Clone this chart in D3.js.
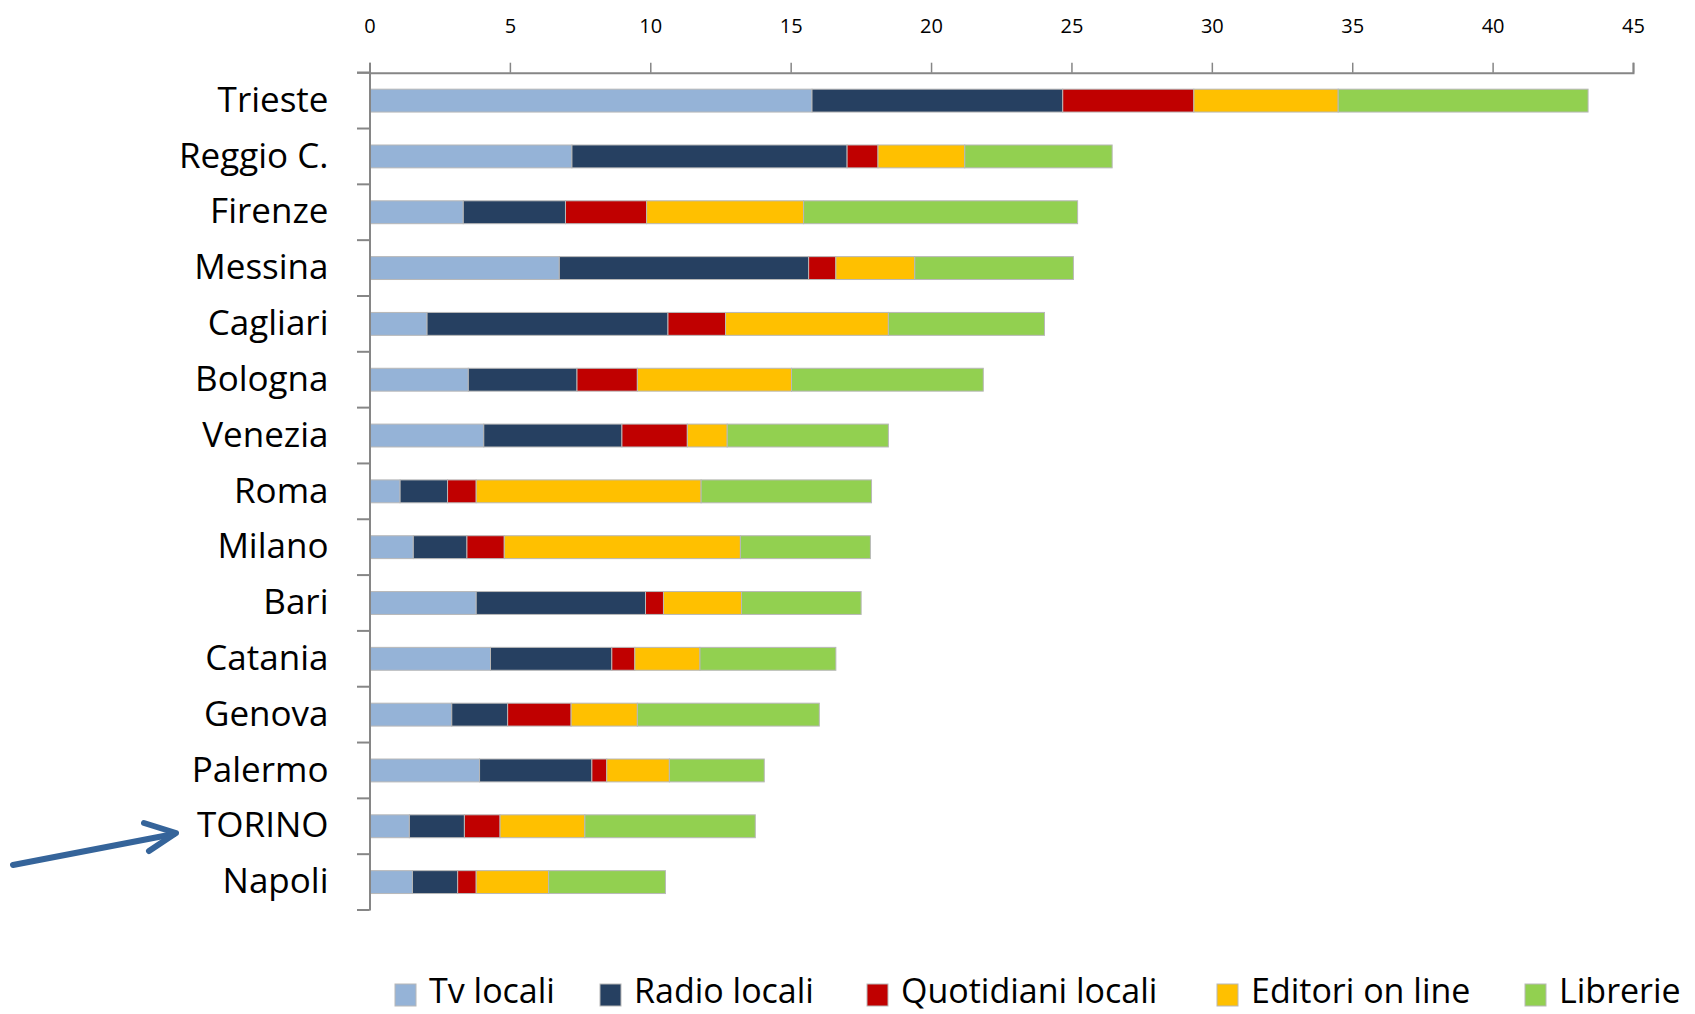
<!DOCTYPE html>
<html><head><meta charset="utf-8">
<script src="https://cdn.jsdelivr.net/npm/d3@7"></script>
<style>
html,body{margin:0;padding:0;background:#fff;}
svg{display:block;font-family:"Open Sans", sans-serif;}
</style></head>
<body>
<svg id="chart" width="1695" height="1014"></svg>
<script>
const cities = ["Trieste","Reggio C.","Firenze","Messina","Cagliari","Bologna","Venezia","Roma","Milano","Bari","Catania","Genova","Palermo","TORINO","Napoli"];
const seriesNames = ["Tv locali","Radio locali","Quotidiani locali","Editori on line","Librerie"];
const tvLocali       = [15.76, 7.21, 3.34, 6.76, 2.05, 3.52, 4.07, 1.09, 1.56, 3.80, 4.31, 2.93, 3.92, 1.42, 1.53];
const radioLocali    = [ 8.93, 9.80, 3.64, 8.88, 8.58, 3.87, 4.92, 1.69, 1.91, 6.03, 4.32, 1.99, 4.00, 1.96, 1.61];
const quotidiani     = [ 4.67, 1.10, 2.89, 0.97, 2.05, 2.15, 2.33, 1.02, 1.33, 0.64, 0.82, 2.26, 0.53, 1.27, 0.66];
const editoriOnLine  = [ 5.14, 3.09, 5.59, 2.81, 5.80, 5.49, 1.42, 8.01, 8.41, 2.78, 2.32, 2.36, 2.23, 3.02, 2.58];
const librerie       = [ 8.90, 5.25, 9.76, 5.65, 5.56, 6.83, 5.74, 6.07, 4.63, 4.26, 4.84, 6.48, 3.38, 6.07, 4.16];
const xTicks = [0,5,10,15,20,25,30,35,40,45];
const colors = ["#95B3D7","#264061","#C00000","#FFC000","#92D050"];

const allSeries = [tvLocali, radioLocali, quotidiani, editoriOnLine, librerie];
const table = cities.map((c,i)=>{
  const o = {city:c};
  seriesNames.forEach((s,j)=>o[s]=allSeries[j][i]);
  return o;
});
const stacked = d3.stack().keys(seriesNames)(table);

const svg = d3.select("#chart");
const x = d3.scaleLinear().domain([0,45]).range([369.5,1633]);
const y = d3.scaleBand().domain(cities).range([72.7,910]).paddingInner(0.59).paddingOuter(0.295);
const color = d3.scaleOrdinal().domain(seriesNames).range(colors);
const axisColor = "#868686";
const FONT = "'Open Sans', sans-serif";

// bars
svg.append("g").selectAll("g").data(stacked).join("g")
  .attr("fill", d=>color(d.key))
  .selectAll("rect").data(d=>d).join("rect")
  .attr("x", d=>x(d[0]))
  .attr("width", d=>x(d[1])-x(d[0]))
  .attr("y", d=>y(d.data.city))
  .attr("height", y.bandwidth())
  .attr("stroke","#b8b8b8").attr("stroke-width",1);

// top axis
const gx = svg.append("g").attr("transform","translate(0,72.7)")
  .call(d3.axisTop(x).tickValues(xTicks).tickSize(10).tickPadding(30).tickFormat(d3.format("d")));
gx.select(".domain").attr("stroke",axisColor).attr("stroke-width",2);
gx.selectAll(".tick line").attr("stroke",axisColor).attr("stroke-width",1.5);
gx.selectAll(".tick text").attr("font-size",20).attr("fill","#000").attr("font-family",FONT);
svg.append("line").attr("x1",357).attr("x2",x(0)).attr("y1",72.7).attr("y2",72.7)
  .attr("stroke",axisColor).attr("stroke-width",2);

// left axis
const gy = svg.append("g").attr("transform",`translate(${x(0)},0)`)
  .call(d3.axisLeft(y).tickSize(0).tickPadding(41));
gy.select(".domain").attr("stroke",axisColor).attr("stroke-width",2);
gy.selectAll(".tick text").attr("font-size",35).attr("fill","#000").attr("font-family",FONT);
const bounds = d3.range(cities.length+1).map(i=> i<cities.length ? y(cities[i]) - y.step()*y.paddingInner()/2 : y.range()[1]);
svg.append("g").selectAll("line").data(bounds).join("line")
  .attr("x1",357).attr("x2",x(0)).attr("y1",d=>d).attr("y2",d=>d)
  .attr("stroke",axisColor).attr("stroke-width",2);

// legend
const legendX = [395, 600, 867, 1217, 1525];
seriesNames.forEach((s,i)=>{
  const g = svg.append("g").attr("transform",`translate(${legendX[i]},0)`);
  g.append("rect").attr("x",0).attr("y",984).attr("width",21).attr("height",22)
    .attr("fill",colors[i]).attr("stroke","#b8b8b8").attr("stroke-width",1);
  g.append("text").attr("x",34).attr("y",1003).attr("font-size",34)
    .attr("font-family",FONT).attr("fill","#000").text(s);
});

// arrow
const arrowColor = "#35649A";
const arrow = svg.append("g").attr("stroke",arrowColor).attr("stroke-width",6)
  .attr("stroke-linecap","round").attr("fill","none");
arrow.append("line").attr("x1",13).attr("y1",865).attr("x2",174).attr("y2",834);
arrow.append("polyline").attr("points","144,823 176,833 149,851").attr("stroke-linejoin","round");
</script>
</body></html>
